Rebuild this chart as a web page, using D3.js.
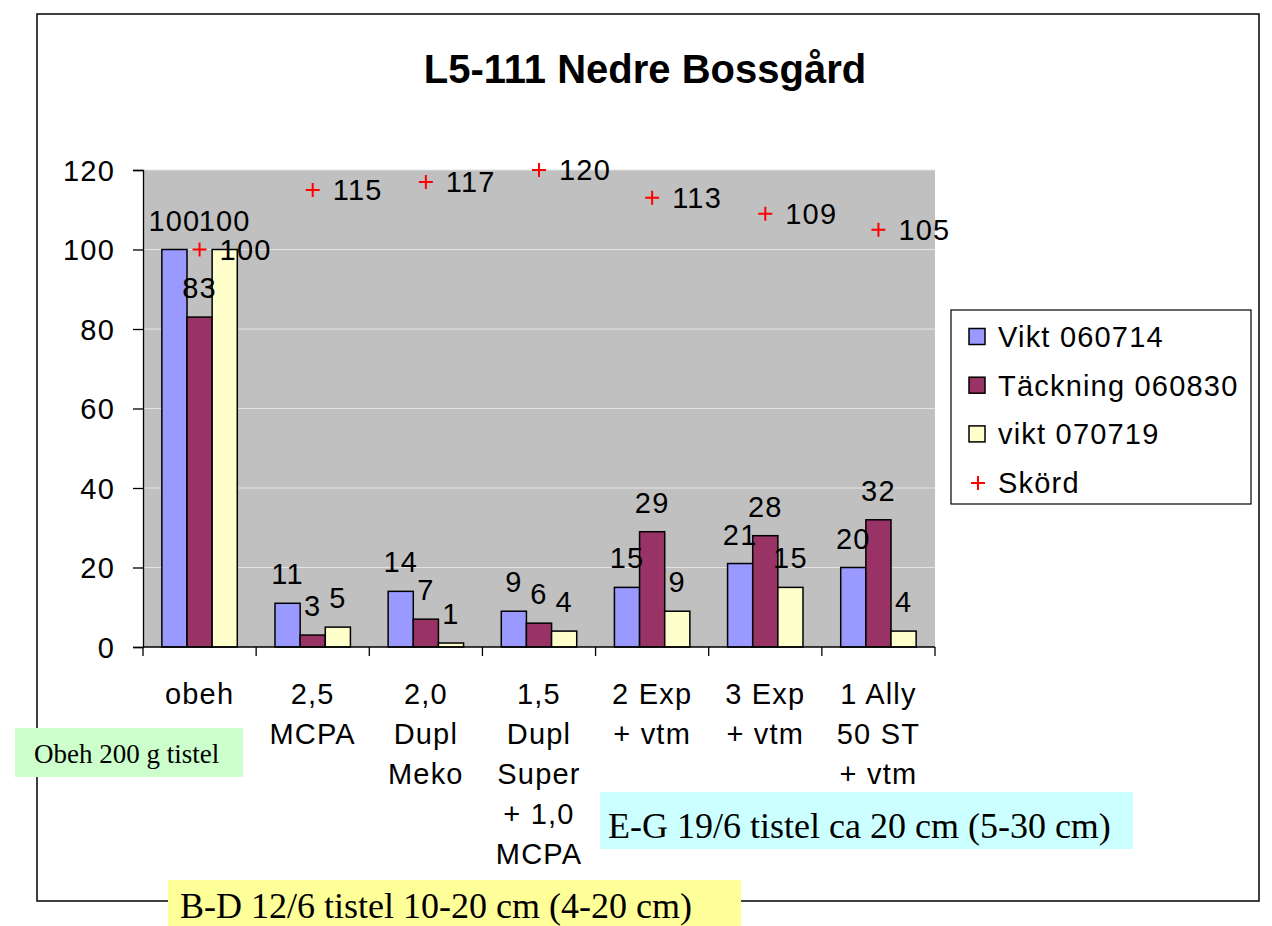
<!DOCTYPE html>
<html><head><meta charset="utf-8">
<script src="https://cdn.jsdelivr.net/npm/d3@7"></script>
<style>
html,body{margin:0;padding:0;background:#fff;}
svg{display:block;}
text{font-family:"Liberation Sans",Arial,sans-serif;}
.serif{font-family:"Liberation Serif","Times New Roman",serif;}
</style></head>
<body>
<svg id="chart" width="1272" height="926"></svg>
<script>
const categories = [["obeh"],["2,5","MCPA"],["2,0","Dupl","Meko"],["1,5","Dupl","Super","+ 1,0","MCPA"],["2 Exp","+ vtm"],["3 Exp","+ vtm"],["1 Ally","50 ST","+ vtm"]];
const vikt060714 = [100, 11, 14, 9, 15, 21, 20];
const tackning060830 = [83, 3, 7, 6, 29, 28, 32];
const vikt070719 = [100, 5, 1, 4, 9, 15, 4];
const skord = [100, 115, 117, 120, 113, 109, 105];
const seriesNames = ["Vikt 060714", "Täckning 060830", "vikt 070719"];
const skordName = "Skörd";
const yTicks = [0, 20, 40, 60, 80, 100, 120];
const title = "L5-111 Nedre Bossgård";
const notes = ["Obeh 200 g tistel", "E-G 19/6 tistel ca 20 cm (5-30 cm)", "B-D 12/6 tistel 10-20 cm (4-20 cm)"];

const colors = ["#9999ff", "#993366", "#ffffcc"];
const seriesData = [vikt060714, tackning060830, vikt070719];

const svg = d3.select("#chart");
const plot = {left:143, right:935, top:170, bottom:647};
const FS = 29, LS = "1.2px";

// outer border
svg.append("rect").attr("x",37).attr("y",14).attr("width",1222).attr("height",887)
  .attr("fill","#fff").attr("stroke","#000").attr("stroke-width",1.5);

// title
svg.append("text").attr("x",645).attr("y",83).attr("text-anchor","middle")
  .attr("font-size",40).attr("font-weight","bold").text(title);

const idx = d3.range(categories.length);
const x0 = d3.scaleBand().domain(idx).range([plot.left, plot.right]).paddingInner(0).paddingOuter(0);
const groupW = x0.bandwidth() * 3 / 4.5;
const x1 = d3.scaleBand().domain([0,1,2]).range([0, groupW]);
const y = d3.scaleLinear().domain([0,120]).range([plot.bottom, plot.top]);

// plot area
svg.append("rect").attr("x",plot.left).attr("y",plot.top).attr("width",plot.right-plot.left)
  .attr("height",plot.bottom-plot.top).attr("fill","#c0c0c0");

// gridlines
svg.append("g").selectAll("line").data(yTicks.filter(t=>t>0)).join("line")
  .attr("x1",plot.left).attr("x2",plot.right).attr("y1",d=>y(d)).attr("y2",d=>y(d))
  .attr("stroke","#e4e4e4").attr("stroke-width",1.2);

// y axis
const yAxis = d3.axisLeft(y).tickValues(yTicks).tickSize(10).tickPadding(18).tickFormat(d3.format("d"));
const gy = svg.append("g").attr("transform",`translate(${plot.left},0)`).call(yAxis);
gy.select(".domain").attr("stroke","#000").attr("stroke-width",1.3);
gy.selectAll(".tick line").attr("stroke","#000").attr("stroke-width",1.3);
gy.selectAll(".tick text").attr("font-size",FS).attr("font-family","Liberation Sans")
  .attr("letter-spacing",LS).attr("fill","#000").attr("dy","0.36em");

// bars
const groups = svg.append("g").selectAll("g").data(idx).join("g")
  .attr("transform",i=>`translate(${x0(i) + (x0.bandwidth()-groupW)/2},0)`);
groups.selectAll("rect").data(i=>seriesData.map((s,k)=>({k, v:s[i]}))).join("rect")
  .attr("x",d=>x1(d.k)).attr("width",x1.bandwidth())
  .attr("y",d=>y(d.v)).attr("height",d=>y(0)-y(d.v))
  .attr("fill",d=>colors[d.k]).attr("stroke","#000").attr("stroke-width",1.5);
groups.selectAll("text").data(i=>seriesData.map((s,k)=>({k, v:s[i]}))).join("text")
  .attr("x",d=>x1(d.k)+x1.bandwidth()/2).attr("y",d=>y(d.v)-19)
  .attr("text-anchor","middle").attr("font-size",FS).attr("letter-spacing",LS).text(d=>d.v);

// x axis
svg.append("line").attr("x1",plot.left).attr("x2",plot.right).attr("y1",plot.bottom).attr("y2",plot.bottom)
  .attr("stroke","#000").attr("stroke-width",1.3);
svg.append("g").selectAll("line").data(d3.range(categories.length+1)).join("line")
  .attr("x1",i=>plot.left + i*x0.bandwidth()).attr("x2",i=>plot.left + i*x0.bandwidth())
  .attr("y1",plot.bottom).attr("y2",plot.bottom+9).attr("stroke","#000").attr("stroke-width",1.3);

// category labels
const cl = svg.append("g").selectAll("text").data(idx).join("text")
  .attr("text-anchor","middle").attr("font-size",FS).attr("letter-spacing",LS);
cl.each(function(i){
  const t = d3.select(this);
  categories[i].forEach((line,j)=>{
    t.append("tspan").attr("x",x0(i)+x0.bandwidth()/2).attr("y",704 + j*40).text(line);
  });
});

// Skörd markers
const sk = svg.append("g");
idx.forEach(i=>{
  const cx = x0(i)+x0.bandwidth()/2, cy = y(skord[i]);
  sk.append("path").attr("d",`M${cx-7},${cy}H${cx+7}M${cx},${cy-7}V${cy+7}`)
    .attr("stroke","#ff0000").attr("stroke-width",2);
  sk.append("text").attr("x",cx+20).attr("y",cy+10).attr("font-size",FS)
    .attr("letter-spacing",LS).text(skord[i]);
});

// legend
const lg = svg.append("g");
lg.append("rect").attr("x",951).attr("y",310).attr("width",300).attr("height",194)
  .attr("fill","#fff").attr("stroke","#000").attr("stroke-width",1.2);
seriesNames.forEach((n,k)=>{
  const cy = 337 + k*48.7;
  lg.append("rect").attr("x",969).attr("y",cy-8.5).attr("width",16).attr("height",16)
    .attr("fill",colors[k]).attr("stroke","#000").attr("stroke-width",1.5);
  lg.append("text").attr("x",998).attr("y",cy+10).attr("font-size",FS).attr("letter-spacing",LS).text(n);
});
{
  const cy = 337 + 3*48.7, cx = 978;
  lg.append("path").attr("d",`M${cx-7},${cy}H${cx+7}M${cx},${cy-7}V${cy+7}`)
    .attr("stroke","#ff0000").attr("stroke-width",2);
  lg.append("text").attr("x",998).attr("y",cy+10).attr("font-size",FS).attr("letter-spacing",LS).text(skordName);
}

// annotation boxes
const boxes = [
  {x:15, y:728, w:228, h:49, fill:"#ccffcc", fs:27, tx:34, ty:763},
  {x:600, y:792, w:533, h:57, fill:"#ccffff", fs:36, tx:608, ty:838},
  {x:168, y:880, w:573, h:46, fill:"#ffff99", fs:36, tx:180, ty:918}
];
boxes.forEach((b,i)=>{
  svg.append("rect").attr("x",b.x).attr("y",b.y).attr("width",b.w).attr("height",b.h).attr("fill",b.fill);
  svg.append("text").attr("class","serif").attr("x",b.tx).attr("y",b.ty).attr("font-size",b.fs).text(notes[i]);
});
</script>
</body></html>
